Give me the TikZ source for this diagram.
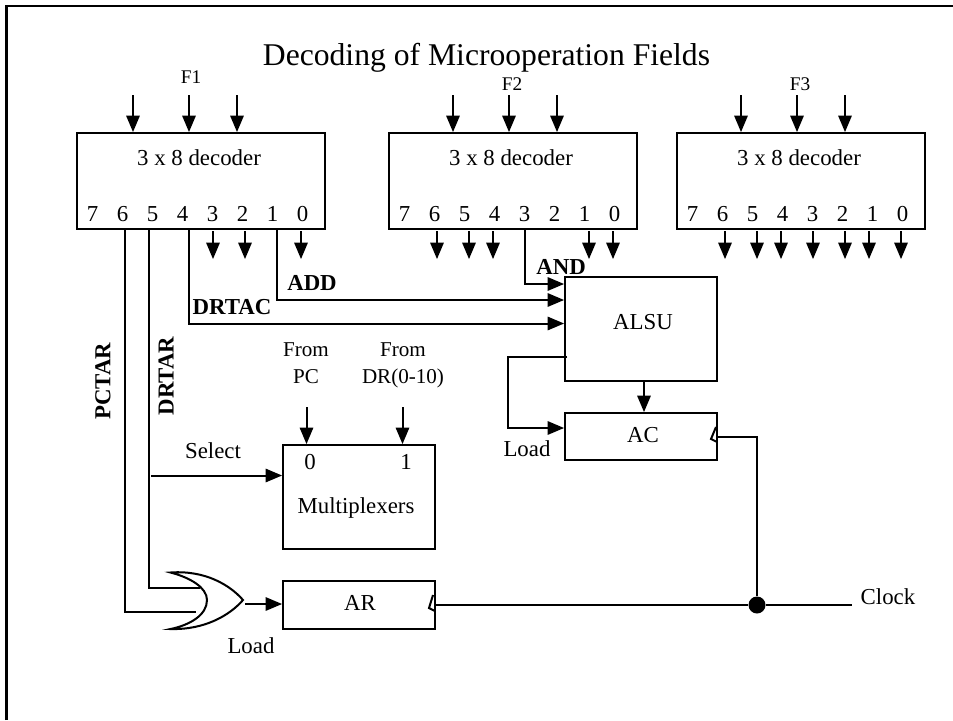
\documentclass[tikz,border=0pt]{standalone}
\usepackage{fontspec}
\setmainfont{Liberation Serif}
\usepackage{tikz}
\usetikzlibrary{arrows}
\tikzstyle{trait} = [line width=1.14pt]
\tikzstyle{fleche} = [trait, -triangle 45]
\tikzstyle{boite} = [rectangle, draw=black, line width=1.14pt, inner sep=0pt]
\tikzstyle{texte} = [inner sep=0pt, font=\fontsize{13}{15}\selectfont]
\tikzstyle{gras} = [inner sep=0pt, font=\fontsize{13}{15}\selectfont\bfseries]
\tikzstyle{petit} = [inner sep=0pt, align=center, font=\fontsize{12}{15.5}\selectfont]
\tikzstyle{champ} = [inner sep=0pt, font=\fontsize{11}{13}\selectfont]

\begin{document}
\begin{tikzpicture}
    \useasboundingbox (0,0) rectangle (19.06,-14.4);

    %% cadre
    \coordinate (cadreA) at (0.13,-14.4);
    \coordinate (cadreB) at (19.06,-0.11);
    \draw[trait] (cadreA) |- (cadreB);

    %% titre
    \node (titre) [inner sep=0pt, font=\fontsize{18}{20}\selectfont] at (9.73,-1.16) {Decoding of Microoperation Fields};

    %% decodeurs
    \node (dec1) [boite, minimum width=4.96cm, minimum height=1.92cm] at (4.02,-3.62) {};
    \node (dec2) [boite, minimum width=4.96cm, minimum height=1.92cm] at (10.26,-3.62) {};
    \node (dec3) [boite, minimum width=4.96cm, minimum height=1.92cm] at (16.02,-3.62) {};
    \node (nom1) [texte] at (3.98,-3.16) {3 x 8 decoder};
    \node (nom2) [texte] at (10.22,-3.16) {3 x 8 decoder};
    \node (nom3) [texte] at (15.98,-3.16) {3 x 8 decoder};
    \node (F1) [champ] at (3.82,-1.54) {F1};
    \node (F2) [champ] at (10.24,-1.68) {F2};
    \node (F3) [champ] at (16,-1.68) {F3};

    %% numeros des sorties
    \foreach \nom/\dep in {A/1.85,B/8.09,C/13.85}
        \foreach \c in {0,...,7}
            \node (sortie\nom\c) [texte] at ({\dep+0.6*(7-\c)},-4.28) {\c};

    %% entrees
    \foreach \nom/\dec/\x in {a/dec1/2.66,b/dec1/3.78,c/dec1/4.74,d/dec2/9.06,e/dec2/10.18,f/dec2/11.14,g/dec3/14.82,h/dec3/15.94,i/dec3/16.9}{
        \coordinate (in\nom) at (\x,-1.9);
        \draw[fleche] (in\nom) -- (in\nom |- \dec.north);
    }

    %% sorties libres
    \foreach \nom/\x in {a/4.26,b/4.9,c/6.02,d/8.74,e/9.38,f/9.86,g/11.78,h/12.26,i/14.5,j/15.14,k/15.62,l/16.26,m/16.9,n/17.38,o/18.02}{
        \coordinate (out\nom) at (\x,-4.62);
        \draw[fleche] (out\nom) -- ++(0,-0.56);
    }

    %% ALSU et AC
    \node (alsu) [boite, minimum width=3.04cm, minimum height=2.08cm] at (12.82,-6.58) {};
    \node (nomalsu) [texte] at (12.86,-6.44) {ALSU};
    \node (ac) [boite, minimum width=3.04cm, minimum height=0.94cm] at (12.82,-8.73) {};
    \node (nomac) [texte] at (12.86,-8.7) {AC};
    \draw[fleche] ([xshift=0.06cm]alsu.south) -- ([xshift=0.06cm]ac.north);
    \draw[trait] (14.32,-8.54) -- (14.22,-8.78) -- (14.34,-8.84);

    %% commandes du decodeur
    \coordinate (coudeadd) at (5.54,-6);
    \draw[fleche] (coudeadd |- dec1.south) -- (coudeadd) -- (coudeadd -| alsu.west);
    \coordinate (coudedrtac) at (3.78,-6.47);
    \draw[fleche] (coudedrtac |- dec1.south) -- (coudedrtac) -- (coudedrtac -| alsu.west);
    \coordinate (coudeand) at (10.5,-5.68);
    \draw[fleche] (coudeand |- dec2.south) -- (coudeand) -- (coudeand -| alsu.west);
    \node (add) [gras] at (6.24,-5.66) {ADD};
    \node (drtac) [gras] at (4.64,-6.14) {DRTAC};
    \node (and) [gras] at (11.22,-5.34) {AND};

    %% load de AC
    \coordinate (sortiealsu) at (11.34,-7.14);
    \coordinate (retour) at (10.16,-8.56);
    \draw[fleche] (sortiealsu) -| (retour) -- (retour -| ac.west);
    \node (loadac) [texte] at (10.54,-8.98) {Load};

    %% multiplexeurs
    \node (mux) [boite, minimum width=3.04cm, minimum height=2.08cm] at (7.18,-9.94) {};
    \node (nommux) [texte] at (7.12,-10.16) {Multiplexers};
    \node (zero) [texte] at (6.2,-9.24) {0};
    \node (un) [texte] at (8.12,-9.24) {1};
    \node (frompc) [petit] at (6.12,-7.26) {From\\PC};
    \node (fromdr) [petit] at (8.06,-7.31) {From\\DR(0-10)};
    \coordinate (inpc) at (6.13,-8.14);
    \coordinate (indr) at (8.05,-8.14);
    \draw[fleche] (inpc) -- (inpc |- mux.north);
    \draw[fleche] (indr) -- (indr |- mux.north);
    \coordinate (sel) at (3.02,-9.51);
    \draw[fleche] (sel) -- (sel -| mux.west);
    \node (select) [texte] at (4.26,-9.02) {Select};

    %% lignes PCTAR et DRTAR
    \coordinate (coudepc) at (2.5,-12.24);
    \coordinate (coudedr) at (2.975,-11.76);
    \coordinate (portebas) at (3.92,-12.24);
    \coordinate (portehaut) at (4,-11.76);
    \draw[trait] (coudepc |- dec1.south) -- (coudepc) -- (portebas);
    \draw[trait] (coudedr |- dec1.south) -- (coudedr) -- (portehaut);
    \node (pctar) [gras, rotate=90] at (2.06,-7.62) {PCTAR};
    \node (drtar) [gras, rotate=90] at (3.32,-7.52) {DRTAR};

    %% porte OR
    \draw[trait] (3.41,-11.45) .. controls (4.1,-11.4) and (4.6,-11.7) .. (4.86,-12)
        .. controls (4.6,-12.3) and (4.1,-12.6) .. (3.41,-12.58)
        .. controls (3.8,-12.5) and (4.14,-12.3) .. (4.14,-12)
        .. controls (4.14,-11.75) and (3.8,-11.55) .. cycle;
    \node (loadar) [texte] at (5.02,-12.92) {Load};

    %% AR
    \node (ar) [boite, minimum width=3.04cm, minimum height=0.96cm] at (7.18,-12.1) {};
    \node (nomar) [texte] at (7.2,-12.06) {AR};
    \coordinate (porte) at (4.9,-12.08);
    \draw[fleche] (porte) -- (porte -| ar.west);
    \draw[trait] (8.66,-11.9) -- (8.58,-12.16) -- (8.7,-12.22);

    %% horloge
    \node (jonction) [circle, fill=black, minimum size=0.34cm, inner sep=0pt] at (15.14,-12.1) {};
    \coordinate (finclock) at (17.04,-12.1);
    \draw[trait] (ar.east) -- (jonction) -- (finclock);
    \draw[trait] (ac.east) -| (jonction);
    \node (clock) [texte] at (17.76,-11.94) {Clock};
\end{tikzpicture}
\end{document}
